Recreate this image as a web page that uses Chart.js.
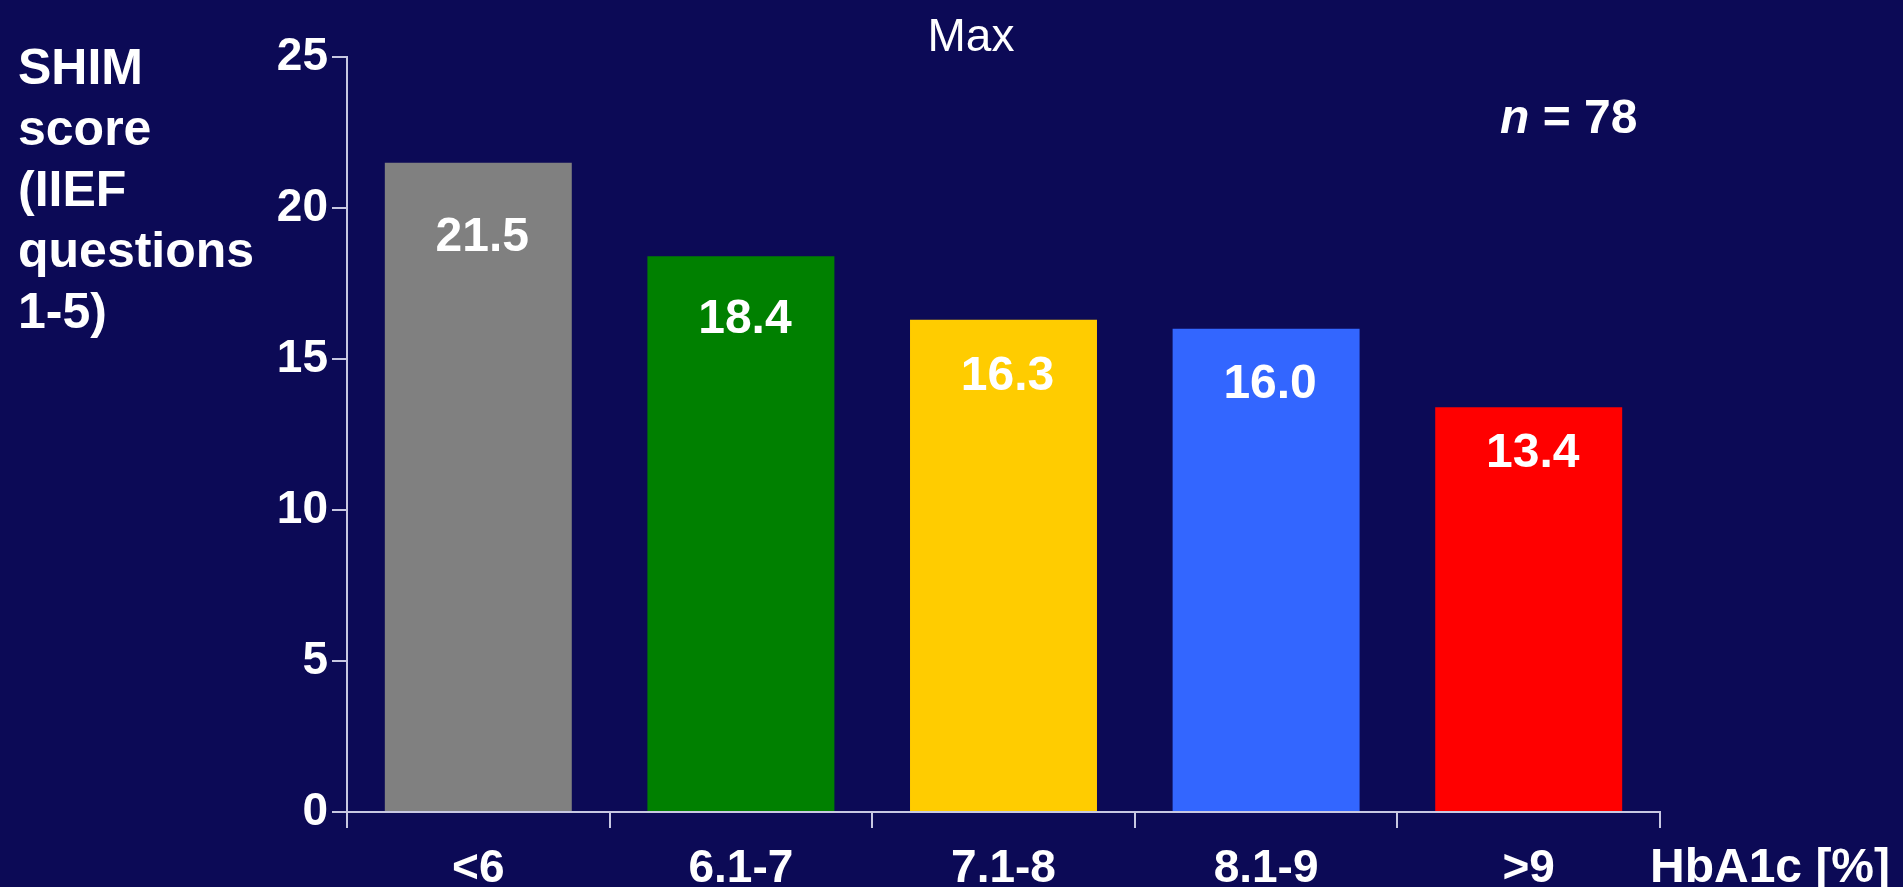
<!DOCTYPE html>
<html>
<head>
<meta charset="utf-8">
<title>SHIM score by HbA1c</title>
<script src="https://cdn.jsdelivr.net/npm/chart.js@4"></script>
<style>
  html, body { margin: 0; padding: 0; background: #0c0a56; overflow: hidden; }
  #wrap { position: relative; width: 1903px; height: 887px; }
</style>
</head>
<body>
<div id="wrap"><canvas id="barchart"></canvas></div>
<script>
// data
var categories = ['<6', '6.1-7', '7.1-8', '8.1-9', '>9'];
var shimScores = [21.5, 18.4, 16.3, 16.0, 13.4];
var barColors = ['#808080', '#008000', '#ffcc00', '#3366ff', '#ff0000'];
var yTicks = [0, 5, 10, 15, 20, 25];

var titleText = 'Max';
var yTitleLines = ['SHIM', 'score', '(IIEF', 'questions', '1-5)'];
var xTitleText = 'HbA1c [%]';
var sampleSize = 78;

var FONT = '"Liberation Sans", Arial, Helvetica, sans-serif';
var axisColor = '#c8c8e2';

// background, title, axis titles, n and value labels
var slideText = {
    id: 'slideText',
    beforeDraw: function (chart) {
        var ctx = chart.ctx;
        ctx.save();
        ctx.fillStyle = '#0c0a56';
        ctx.fillRect(0, 0, chart.width, chart.height);
        ctx.restore();
    },
    afterDraw: function (chart) {
        var ctx = chart.ctx;
        var area = chart.chartArea;
        var yScale = chart.scales.y;
        ctx.save();
        ctx.fillStyle = '#ffffff';
        ctx.textBaseline = 'alphabetic';

        // title
        ctx.font = '46px ' + FONT;
        ctx.textAlign = 'center';
        ctx.fillText(titleText, 971, 51);

        // y axis title, one word per line
        ctx.font = 'bold 50px ' + FONT;
        ctx.textAlign = 'left';
        yTitleLines.forEach(function (line, i) {
            ctx.fillText(line, 18, 84 + i * 61);
        });

        // x axis title, beside the last category
        ctx.font = 'bold 48px ' + FONT;
        ctx.fillText(xTitleText, area.right - 10, 882);

        // n = 78
        var x = 1500;
        ctx.font = 'italic bold 48px ' + FONT;
        ctx.fillText('n', x, 133);
        x += ctx.measureText('n').width;
        ctx.font = 'bold 48px ' + FONT;
        ctx.fillText(' = ' + sampleSize, x, 133);

        // value labels inside the bars
        ctx.font = 'bold 48px ' + FONT;
        ctx.textAlign = 'center';
        ctx.textBaseline = 'middle';
        var meta = chart.getDatasetMeta(0);
        meta.data.forEach(function (bar, i) {
            var v = shimScores[i];
            ctx.fillText(v.toFixed(1), bar.x + 4, yScale.getPixelForValue(v * 0.885));
        });
        ctx.restore();
    }
};

var barchart = document.getElementById('barchart');

var myBarChart = new Chart(barchart, {
    type: 'bar',
    data: {
        labels: categories,
        datasets: [{
            data: shimScores,
            backgroundColor: barColors,
            borderWidth: 0,
            categoryPercentage: 1.0,
            barPercentage: 0.712
        }]
    },
    options: {
        responsive: true,
        maintainAspectRatio: false,
        animation: false,
        events: [],
        layout: {
            autoPadding: false,
            padding: { top: 57, right: 243, bottom: 0, left: 0 }
        },
        plugins: {
            legend: { display: false },
            title: { display: false },
            tooltip: { enabled: false }
        },
        scales: {
            x: {
                grid: {
                    offset: true,
                    drawOnChartArea: false,
                    drawTicks: true,
                    tickLength: 16,
                    color: axisColor,
                    lineWidth: 2
                },
                border: { display: true, color: axisColor, width: 2 },
                ticks: {
                    color: '#ffffff',
                    padding: 14,
                    maxRotation: 0,
                    font: { family: FONT, size: 46, weight: 'bold' }
                },
                afterFit: function (scale) { scale.height = 75; }
            },
            y: {
                min: 0,
                max: 25,
                afterBuildTicks: function (scale) {
                    scale.ticks = yTicks.map(function (v) { return { value: v }; });
                },
                grid: {
                    drawOnChartArea: false,
                    drawTicks: true,
                    tickLength: 15,
                    color: axisColor,
                    lineWidth: 2
                },
                border: { display: true, color: axisColor, width: 2 },
                ticks: {
                    color: '#ffffff',
                    padding: 4,
                    font: { family: FONT, size: 46, weight: 'bold' }
                },
                afterFit: function (scale) { scale.width = 347; }
            }
        }
    },
    plugins: [slideText]
});
</script>
</body>
</html>
